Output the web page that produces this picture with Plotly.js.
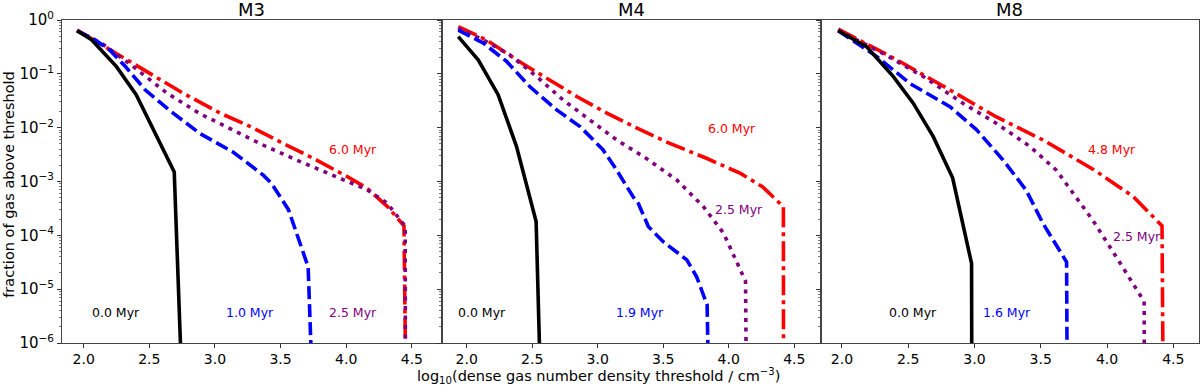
<!DOCTYPE html>
<html>
<head>
<meta charset="utf-8">
<script src="https://cdn.plot.ly/plotly-3.0.1.min.js"></script>
<style>html,body{margin:0;padding:0;background:#fff;}#chart{width:1200px;height:386px;}</style>
</head>
<body>
<div id="chart"></div>
<script>
// ---------- data ----------
const panelTitles = ['M3', 'M4', 'M8'];
const xTickVals = [2.0, 2.5, 3.0, 3.5, 4.0, 4.5];
const xTickText = ['2.0', '2.5', '3.0', '3.5', '4.0', '4.5'];
const yTickVals = [1e-6, 1e-5, 1e-4, 1e-3, 1e-2, 1e-1, 1];
const yTickText = ['10<sup>−6</sup>', '10<sup>−5</sup>', '10<sup>−4</sup>', '10<sup>−3</sup>', '10<sup>−2</sup>', '10<sup>−1</sup>', '10<sup>0</sup>'];

// M3
const m3_x_00 = [1.95, 2.06, 2.25, 2.40, 2.69, 2.752];
const m3_y_00 = [0.63, 0.43, 0.136, 0.041, 1.5e-3, 1e-7];
const m3_x_10 = [1.95, 2.08, 2.2, 2.32, 2.47, 2.65, 2.885, 3.14, 3.37, 3.43, 3.56, 3.67, 3.71, 3.745];
const m3_y_10 = [0.63, 0.437, 0.275, 0.135, 0.05, 0.0214, 7.8e-3, 3.5e-3, 1.3e-3, 9.3e-4, 3.0e-4, 5.4e-5, 2.6e-5, 1e-7];
const m3_x_25 = [1.95, 2.147, 2.37, 2.63, 2.885, 3.14, 3.39, 3.65, 3.9, 4.156, 4.31, 4.449, 4.452];
const m3_y_25 = [0.63, 0.355, 0.141, 0.0447, 0.0182, 9.1e-3, 4.47e-3, 2.34e-3, 1.32e-3, 7.1e-4, 4.0e-4, 1.48e-4, 1e-7];
const m3_x_60 = [1.95, 2.196, 2.5, 2.75, 3.04, 3.27, 3.52, 3.775, 4.03, 4.156, 4.31, 4.44, 4.455];
const m3_y_60 = [0.65, 0.288, 0.105, 0.0447, 0.0186, 0.0105, 5.1e-3, 2.5e-3, 1.15e-3, 7.6e-4, 3.5e-4, 1.51e-4, 1e-7];

// M4
const m4_x_00 = [1.936, 2.089, 2.24, 2.38, 2.53, 2.566];
const m4_y_00 = [0.49, 0.18, 0.041, 4.5e-3, 1.8e-4, 1e-7];
const m4_x_19 = [1.936, 2.127, 2.305, 2.483, 2.687, 2.865, 3.04, 3.145, 3.27, 3.31, 3.387, 3.50, 3.68, 3.755, 3.835, 3.848];
const m4_y_19 = [0.646, 0.372, 0.17, 0.0575, 0.0214, 0.0105, 3.9e-3, 1.62e-3, 5.2e-4, 3.9e-4, 1.45e-4, 7.6e-5, 3.5e-5, 1.7e-5, 5.1e-6, 1e-7];
const m4_x_25 = [1.936, 2.127, 2.33, 2.534, 2.738, 2.94, 3.145, 3.35, 3.603, 3.807, 3.96, 4.128, 4.135];
const m4_y_25 = [0.70, 0.427, 0.224, 0.089, 0.0324, 0.0138, 5.9e-3, 2.9e-3, 1.07e-3, 3.4e-4, 1.1e-4, 1.41e-5, 1e-7];
const m4_x_60 = [1.936, 2.15, 2.38, 2.61, 2.84, 3.07, 3.3, 3.55, 3.83, 4.09, 4.26, 4.417, 4.418];
const m4_y_60 = [0.75, 0.427, 0.182, 0.0832, 0.038, 0.0186, 9.8e-3, 5.1e-3, 2.7e-3, 1.41e-3, 7.9e-4, 3.4e-4, 1e-7];

// M8
const m8_x_00 = [1.972, 2.188, 2.388, 2.539, 2.689, 2.835, 2.978, 2.98];
const m8_y_00 = [0.63, 0.316, 0.089, 0.0282, 6.8e-3, 1.17e-3, 3.0e-5, 1e-7];
const m8_x_16 = [1.972, 2.263, 2.514, 2.815, 3.016, 3.216, 3.39, 3.517, 3.695, 3.70];
const m8_y_16 = [0.63, 0.209, 0.066, 0.0245, 9.1e-3, 2.5e-3, 6.9e-4, 1.66e-4, 3.2e-5, 1e-7];
const m8_x_25 = [1.972, 2.339, 2.614, 2.915, 3.166, 3.417, 3.618, 3.768, 3.893, 4.069, 4.257, 4.28, 4.283];
const m8_y_25 = [0.646, 0.219, 0.089, 0.0282, 0.012, 4.5e-3, 1.62e-3, 5.2e-4, 1.9e-4, 4.0e-5, 7.2e-6, 5.9e-6, 1e-7];
const m8_x_48 = [1.972, 2.414, 2.815, 3.166, 3.517, 3.9, 4.2, 4.40, 4.415, 4.424];
const m8_y_48 = [0.676, 0.182, 0.05, 0.0158, 5.9e-3, 1.66e-3, 5.2e-4, 1.7e-4, 1.5e-4, 1e-7];

// time labels per panel
const m3_labels = ['0.0 Myr', '1.0 Myr', '2.5 Myr', '6.0 Myr'];
const m4_labels = ['0.0 Myr', '1.9 Myr', '2.5 Myr', '6.0 Myr'];
const m8_labels = ['0.0 Myr', '1.6 Myr', '2.5 Myr', '4.8 Myr'];

// ---------- styles ----------
const FONT = 'DejaVu Sans, Liberation Sans, sans-serif';
const LW = 3.6;
const styles = [
  {color: '#000000', dash: 'solid'},
  {color: '#0000ff', dash: '13px,5px'},
  {color: '#800080', dash: '4px,5.5px'},
  {color: '#ff0000', dash: '20px,5px,4px,5px'}
];

const panels = [
  {xs: [m3_x_00, m3_x_10, m3_x_25, m3_x_60], ys: [m3_y_00, m3_y_10, m3_y_25, m3_y_60], labels: m3_labels,
   lpos: [[2.249, -5.44], [3.27, -5.44], [4.054, -5.44], [4.054, -2.41]]},
  {xs: [m4_x_00, m4_x_19, m4_x_25, m4_x_60], ys: [m4_y_00, m4_y_19, m4_y_25, m4_y_60], labels: m4_labels,
   lpos: [[2.115, -5.44], [3.324, -5.44], [4.075, -3.525], [4.024, -2.01]]},
  {xs: [m8_x_00, m8_x_16, m8_x_25, m8_x_48], ys: [m8_y_00, m8_y_16, m8_y_25, m8_y_48], labels: m8_labels,
   lpos: [[2.539, -5.44], [3.244, -5.44], [4.226, -4.02], [4.037, -2.41]]}
];

const domains = [[0, 0.3339], [0.3339, 0.6672], [0.6672, 1]];
const xRanges = [[1.835, 4.727], [1.809, 4.701], [1.839, 4.694]];

const traces = [];
const annotations = [];
panels.forEach((p, i) => {
  const xa = i === 0 ? 'x' : 'x' + (i + 1);
  const ya = i === 0 ? 'y' : 'y' + (i + 1);
  [3, 2, 1, 0].forEach(k => {
    traces.push({
      x: p.xs[k], y: p.ys[k], xaxis: xa, yaxis: ya, type: 'scatter', mode: 'lines',
      line: {color: styles[k].color, dash: styles[k].dash, width: LW},
      hoverinfo: 'skip'
    });
  });
  p.labels.forEach((t, k) => {
    annotations.push({
      text: t, xref: xa, yref: ya, x: p.lpos[k][0], y: p.lpos[k][1],
      showarrow: false, xanchor: 'center', yanchor: 'middle',
      font: {family: FONT, size: 12.5, color: styles[k].color}
    });
  });
  annotations.push({
    text: panelTitles[i], xref: 'paper', yref: 'paper',
    x: (domains[i][0] + domains[i][1]) / 2, y: 1.034, showarrow: false,
    xanchor: 'center', yanchor: 'middle', font: {family: FONT, size: 18, color: '#000'}
  });
});

annotations.push({
  text: 'log<sub>10</sub>(dense gas number density threshold / cm<sup>−3</sup>)',
  xref: 'paper', yref: 'paper', x: 0.472, y: -0.103, showarrow: false,
  xanchor: 'center', yanchor: 'middle', font: {family: FONT, size: 14.5, color: '#000'}
});
annotations.push({
  text: 'fraction of gas above threshold',
  xref: 'paper', yref: 'paper', x: -0.0466, y: 0.49, showarrow: false, textangle: -90,
  xanchor: 'center', yanchor: 'middle', font: {family: FONT, size: 14.5, color: '#000'}
});

function xaxisDef(i) {
  return {
    domain: domains[i], range: xRanges[i], anchor: i === 0 ? 'y' : 'y' + (i + 1),
    tickmode: 'array', tickvals: xTickVals, ticktext: xTickText,
    ticks: 'outside', ticklen: 3.5, tickwidth: 1, tickcolor: '#333',
    showline: true, linecolor: '#444', linewidth: 1, mirror: true,
    showgrid: false, zeroline: false,
    tickfont: {family: FONT, size: 14, color: '#000'}
  };
}
function yaxisDef(i) {
  return {
    type: 'log', range: [-6, 0], anchor: i === 0 ? 'x' : 'x' + (i + 1),
    tickmode: 'array', tickvals: yTickVals, ticktext: yTickText,
    showticklabels: i === 0,
    ticks: 'outside', ticklen: 4, tickwidth: 1, tickcolor: '#333',
    minor: {ticks: 'outside', ticklen: 2, tickwidth: 0.8, tickcolor: '#555', dtick: 'D1', showgrid: false},
    showline: true, linecolor: '#444', linewidth: 1, mirror: true,
    showgrid: false, zeroline: false,
    tickfont: {family: FONT, size: 15, color: '#000'}
  };
}

const layout = {
  width: 1200, height: 386,
  margin: {l: 62, r: 1, t: 20, b: 43, pad: 0},
  paper_bgcolor: '#ffffff', plot_bgcolor: '#ffffff',
  showlegend: false,
  font: {family: FONT, color: '#000'},
  xaxis: xaxisDef(0), xaxis2: xaxisDef(1), xaxis3: xaxisDef(2),
  yaxis: yaxisDef(0), yaxis2: yaxisDef(1), yaxis3: yaxisDef(2),
  annotations: annotations
};

Plotly.newPlot('chart', traces, layout, {staticPlot: true, displayModeBar: false});
</script>
</body>
</html>
